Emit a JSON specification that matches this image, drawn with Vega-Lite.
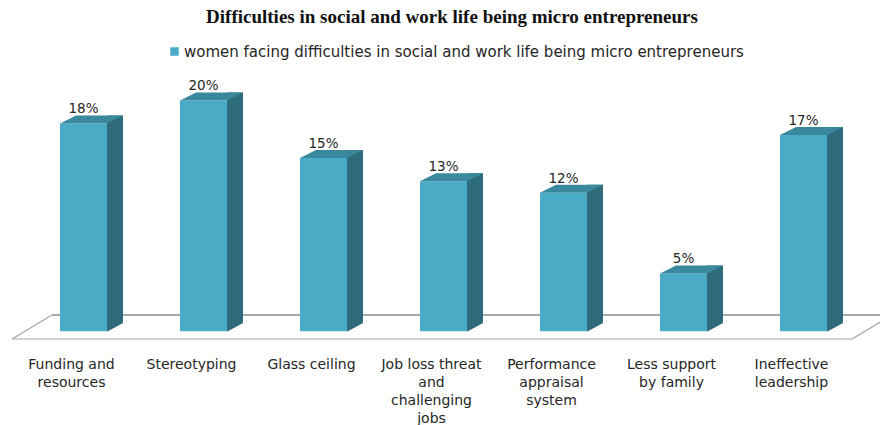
{
  "$schema": "https://vega.github.io/schema/vega-lite/v6.json",
  "width": 840,
  "height": 300,
  "autosize": {"type": "none"},
  "padding": {"left": 23.5, "top": 60, "right": 16.5, "bottom": 65},
  "background": "white",
  "config": {"view": {"stroke": null}},
  "title": {
    "text": "Difficulties in social and work life being micro entrepreneurs",
    "font": "Liberation Serif",
    "fontSize": 19,
    "fontWeight": "bold",
    "color": "#111111",
    "anchor": "middle",
    "dx": 8.5,
    "baseline": "alphabetic",
    "offset": 2
  },
  "data": {
    "values": [
      {"factor": "Funding and resources", "share": 0.18, "series": "women facing difficulties in social and work life being micro entrepreneurs"},
      {"factor": "Stereotyping", "share": 0.20, "series": "women facing difficulties in social and work life being micro entrepreneurs"},
      {"factor": "Glass ceiling", "share": 0.15, "series": "women facing difficulties in social and work life being micro entrepreneurs"},
      {"factor": "Job loss threat and challenging jobs", "share": 0.13, "series": "women facing difficulties in social and work life being micro entrepreneurs"},
      {"factor": "Performance appraisal system", "share": 0.12, "series": "women facing difficulties in social and work life being micro entrepreneurs"},
      {"factor": "Less support by family", "share": 0.05, "series": "women facing difficulties in social and work life being micro entrepreneurs"},
      {"factor": "Ineffective leadership", "share": 0.17, "series": "women facing difficulties in social and work life being micro entrepreneurs"}
    ]
  },
  "encoding": {
    "x": {
      "field": "factor",
      "type": "nominal",
      "sort": null,
      "scale": {
        "domain": ["Funding and resources", "Stereotyping", "Glass ceiling", "Job loss threat and challenging jobs", "Performance appraisal system", "Less support by family", "Ineffective leadership"],
        "paddingInner": 0,
        "paddingOuter": 0
      },
      "axis": {
        "title": null,
        "domain": false,
        "ticks": false,
        "grid": false,
        "labelAngle": 0,
        "labelFont": "DejaVu Sans",
        "labelFontSize": 14,
        "labelColor": "#262626",
        "labelOffset": -12,
        "labelPadding": 8,
        "labelBaseline": "alphabetic",
        "labelLineHeight": 18,
        "labelLimit": 0,
        "labelOverlap": false,
        "labelExpr": "datum.value == 'Funding and resources' ? ['Funding and', 'resources'] : datum.value == 'Job loss threat and challenging jobs' ? ['Job loss threat', 'and', 'challenging', 'jobs'] : datum.value == 'Performance appraisal system' ? ['Performance', 'appraisal', 'system'] : datum.value == 'Less support by family' ? ['Less support', 'by family'] : datum.value == 'Ineffective leadership' ? ['Ineffective', 'leadership'] : datum.value"
      }
    }
  },
  "layer": [
    {
      "data": {"values": [{}]},
      "mark": {"type": "rule", "color": "#A6A6A6", "strokeWidth": 2, "xOffset": -31.5, "x2Offset": 88.5},
      "encoding": {
        "x": {"datum": "Funding and resources"},
        "x2": {"datum": "Ineffective leadership"},
        "y": {"datum": 0.014, "type": "quantitative", "scale": {"domain": [-0.025, 0.235], "nice": false, "zero": false}, "axis": null}
      }
    },
    {
      "data": {"values": [{}]},
      "mark": {"type": "rule", "color": "#A6A6A6", "strokeWidth": 1.2, "xOffset": -71.5, "x2Offset": 48.5},
      "encoding": {
        "x": {"datum": "Funding and resources"},
        "x2": {"datum": "Ineffective leadership"},
        "y": {"datum": -0.0068, "type": "quantitative"}
      }
    },
    {
      "data": {"values": [{}]},
      "mark": {"type": "rule", "color": "#A6A6A6", "strokeWidth": 1.2, "xOffset": -71.5, "x2Offset": -31.5},
      "encoding": {
        "x": {"datum": "Funding and resources"},
        "x2": {"datum": "Funding and resources"},
        "y": {"datum": -0.0068, "type": "quantitative"},
        "y2": {"datum": 0.014}
      }
    },
    {
      "data": {"values": [{}]},
      "mark": {"type": "rule", "color": "#A6A6A6", "strokeWidth": 1.2, "xOffset": 48.5, "x2Offset": 88.5},
      "encoding": {
        "x": {"datum": "Ineffective leadership"},
        "x2": {"datum": "Ineffective leadership"},
        "y": {"datum": -0.0068, "type": "quantitative"},
        "y2": {"datum": 0.014}
      }
    },
    {
      "mark": {"type": "bar", "width": 47},
      "encoding": {
        "y": {"field": "share", "type": "quantitative"},
        "y2": {"datum": 0},
        "color": {
          "field": "series",
          "type": "nominal",
          "scale": {"range": ["#4AABC7"]},
          "legend": {
            "orient": "none",
            "legendX": 143.5,
            "legendY": -16,
            "title": null,
            "padding": 0,
            "symbolType": "square",
            "symbolSize": 72,
            "symbolStrokeWidth": 0,
            "labelFont": "DejaVu Sans",
            "labelFontSize": 15,
            "labelColor": "#262626",
            "labelLimit": 800,
            "labelOffset": 2
          }
        }
      }
    },
    {
      "mark": {"type": "bar", "width": 16, "xOffset": 31.5, "yOffset": -8, "y2Offset": 0, "color": "#2E6B7B"},
      "encoding": {
        "y": {"field": "share", "type": "quantitative"},
        "y2": {"datum": 0}
      }
    },
    {
      "mark": {"type": "point", "shape": "M23.5,0.6L40.5,0.6L40.5,-8.6Z", "size": 4, "filled": true, "opacity": 1, "color": "white", "strokeWidth": 0},
      "encoding": {
        "y": {"datum": 0, "type": "quantitative"}
      }
    },
    {
      "mark": {"type": "point", "shape": "M-23.5,0L23.5,0L39.5,-8L-7.5,-8Z", "size": 4, "filled": true, "opacity": 1, "color": "#3A889D", "strokeWidth": 0},
      "encoding": {
        "y": {"field": "share", "type": "quantitative"}
      }
    },
    {
      "mark": {"type": "text", "dy": -10, "baseline": "alphabetic", "font": "DejaVu Sans", "fontSize": 13.5, "color": "#262626"},
      "encoding": {
        "y": {"field": "share", "type": "quantitative"},
        "text": {"field": "share", "type": "quantitative", "format": ".0%"}
      }
    }
  ]
}
